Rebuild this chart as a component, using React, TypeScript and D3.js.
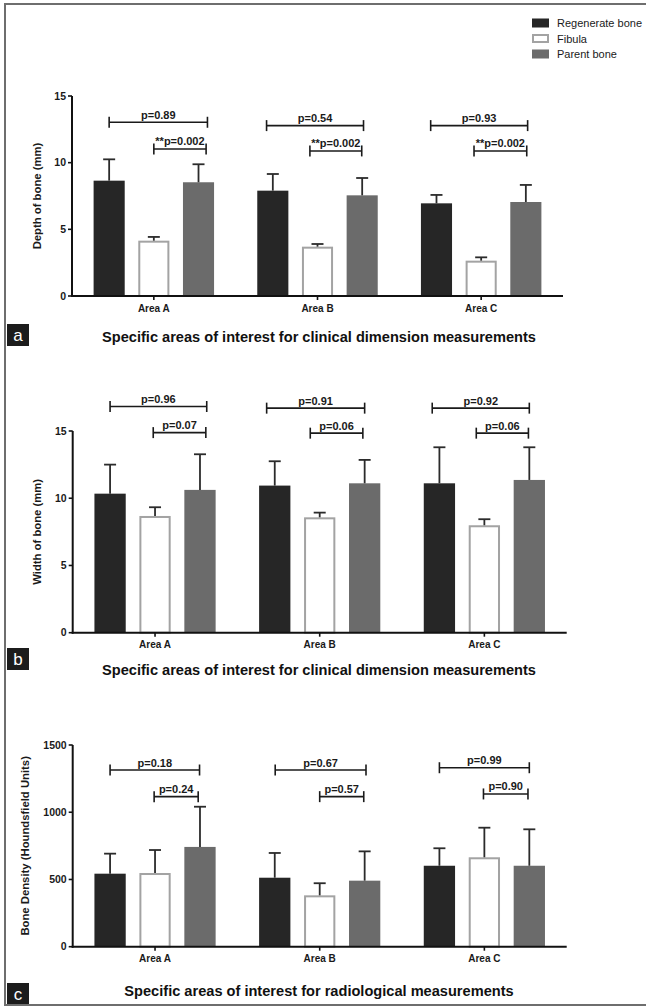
import React from "react";
import * as d3 from "d3";

const areas = ["Area A", "Area B", "Area C"];
const series = ["Regenerate bone", "Fibula", "Parent bone"];
const colors = ["#262626", "#ffffff", "#6b6b6b"];

// panel a - depth of bone (mm)
const depthTicks = [0, 5, 10, 15];
const depthRegenerate = [8.65, 7.9, 6.95];
const depthRegenerateSD = [1.6, 1.25, 0.63];
const depthFibula = [4.15, 3.7, 2.65];
const depthFibulaSD = [0.28, 0.2, 0.25];
const depthParent = [8.53, 7.55, 7.05];
const depthParentSD = [1.35, 1.3, 1.28];
const depthP = [["p=0.89", "**p=0.002"], ["p=0.54", "**p=0.002"], ["p=0.93", "**p=0.002"]];
const depthLevels = [[13.03, 11.03], [12.78, 10.88], [12.78, 10.88]];
const depthSpans = [[[0, 2.2], [1, 2.17]], [[-0.14, 2.03], [0.83, 1.99]], [[-0.13, 2.04], [0.84, 2.02]]];

// panel b - width of bone (mm)
const widthTicks = [0, 5, 10, 15];
const widthRegenerate = [10.34, 10.94, 11.11];
const widthRegenerateSD = [2.16, 1.81, 2.68];
const widthFibula = [8.68, 8.58, 7.99];
const widthFibulaSD = [0.65, 0.35, 0.45];
const widthParent = [10.62, 11.11, 11.36];
const widthParentSD = [2.65, 1.74, 2.43];
const widthP = [["p=0.96", "p=0.07"], ["p=0.91", "p=0.06"], ["p=0.92", "p=0.06"]];
const widthLevels = [[16.82, 14.88], [16.7, 14.84], [16.7, 14.84]];
const widthSpans = [[[0, 2.15], [0.96, 2.13]], [[-0.18, 2.0], [0.79, 1.96]], [[-0.16, 2.0], [0.82, 1.98]]];

// panel c - bone density (HU)
const densityTicks = [0, 500, 1000, 1500];
const densityRegenerate = [543, 513, 602];
const densityRegenerateSD = [149, 184, 130];
const densityFibula = [548, 382, 665];
const densityFibulaSD = [171, 90, 220];
const densityParent = [742, 491, 602];
const densityParentSD = [299, 218, 271];
const densityP = [["p=0.18", "p=0.24"], ["p=0.67", "p=0.57"], ["p=0.99", "p=0.90"]];
const densityLevels = [[1314, 1116], [1314, 1116], [1331, 1136]];
const densitySpans = [[[0, 1.99], [0.98, 1.96]], [[0.01, 2.03], [1.0, 1.98]], [[0, 2.0], [0.98, 1.97]]];

const font = "'Liberation Sans', Arial, sans-serif";

const panels = [
  {
    letter: "a", yLabel: "Depth of bone (mm)", yLabelX: 40.5,
    title: "Specific areas of interest for clinical dimension measurements",
    ticks: depthTicks, means: [depthRegenerate, depthFibula, depthParent],
    sds: [depthRegenerateSD, depthFibulaSD, depthParentSD],
    pvals: depthP, levels: depthLevels, spans: depthSpans,
    xRange: [72, 563], yTop: 96, yBottom: 296, titleY: 342, boxY: 324
  },
  {
    letter: "b", yLabel: "Width of bone (mm)", yLabelX: 40.5,
    title: "Specific areas of interest for clinical dimension measurements",
    ticks: widthTicks, means: [widthRegenerate, widthFibula, widthParent],
    sds: [widthRegenerateSD, widthFibulaSD, widthParentSD],
    pvals: widthP, levels: widthLevels, spans: widthSpans,
    xRange: [72.7, 566.7], yTop: 431, yBottom: 632.7, titleY: 675, boxY: 648
  },
  {
    letter: "c", yLabel: "Bone Density (Houndsfield Units)", yLabelX: 29,
    title: "Specific areas of interest for radiological measurements",
    ticks: densityTicks, means: [densityRegenerate, densityFibula, densityParent],
    sds: [densityRegenerateSD, densityFibulaSD, densityParentSD],
    pvals: densityP, levels: densityLevels, spans: densitySpans,
    xRange: [72.7, 566.7], yTop: 745, yBottom: 946.7, titleY: 996, boxY: 983
  }
];

function Panel({ p }) {
  const x = d3.scaleBand().domain(areas).range(p.xRange);
  const bw = x.bandwidth();
  const step = bw * 0.273;
  const inner = d3.scaleBand()
    .domain(series)
    .range([bw / 2 - 1.5 * step, bw / 2 + 1.5 * step])
    .paddingInner(0.304)
    .paddingOuter(0.152);
  const yMax = p.ticks[p.ticks.length - 1];
  const y = d3.scaleLinear().domain([0, yMax]).range([p.yBottom, p.yTop]);
  const x0 = p.xRange[0];
  const sx = (ai, s) => x(areas[ai]) + inner(series[0]) + inner.bandwidth() / 2 + s * inner.step();

  const bars = series.map((s, si) => areas.map((a, ai) => {
    const v = p.means[si][ai];
    const bx = x(a) + inner(s);
    const w = inner.bandwidth();
    if (si === 1) {
      return (
        <rect key={s + a} x={bx + 1} y={y(v) + 1} width={w - 2} height={y(0) - y(v) - 1}
          fill="#fff" stroke="#a3a3a3" strokeWidth={2} />
      );
    }
    return <rect key={s + a} x={bx} y={y(v)} width={w} height={y(0) - y(v)} fill={colors[si]} />;
  }));

  const errors = series.map((s, si) => areas.map((a, ai) => {
    const v = p.means[si][ai];
    const top = v + p.sds[si][ai];
    const cx = x(a) + inner(s) + inner.bandwidth() / 2;
    return (
      <g key={"e" + s + a} stroke="#2b2b2b" strokeWidth={1.8}>
        <line x1={cx} x2={cx} y1={y(v)} y2={y(top)} />
        <line x1={cx - 6} x2={cx + 6} y1={y(top)} y2={y(top)} />
      </g>
    );
  }));

  const brackets = areas.map((a, ai) => p.spans[ai].map((sp, bi) => {
    const xa = sx(ai, sp[0]);
    const xb = sx(ai, sp[1]);
    const yy = y(p.levels[ai][bi]);
    return (
      <g key={"b" + a + bi}>
        <g stroke="#1a1a1a" strokeWidth={1.6}>
          <line x1={xa} x2={xb} y1={yy} y2={yy} />
          <line x1={xa} x2={xa} y1={yy - 5.5} y2={yy + 5.5} />
          <line x1={xb} x2={xb} y1={yy - 5.5} y2={yy + 5.5} />
        </g>
        <text x={(xa + xb) / 2} y={yy - 3.5} textAnchor="middle" fontSize={11}
          fontWeight="bold" fontFamily={font} fill="#1a1a1a">{p.pvals[ai][bi]}</text>
      </g>
    );
  }));

  const yAxis = (
    <g>
      <line x1={x0} x2={x0} y1={y(0) + 1} y2={y(yMax)} stroke="#111" strokeWidth={2} />
      {p.ticks.map(t => (
        <g key={t}>
          <line x1={x0 - 4} x2={x0} y1={y(t)} y2={y(t)} stroke="#111" strokeWidth={1.6} />
          <text x={x0 - 6} y={y(t)} dy="0.35em" textAnchor="end" fontSize={10.5}
            fontWeight="bold" fontFamily={font} fill="#1a1a1a">{t}</text>
        </g>
      ))}
      <text transform={`translate(${p.yLabelX},${(y(0) + y(yMax)) / 2}) rotate(-90)`}
        textAnchor="middle" fontSize={11.3} fontWeight="bold" fontFamily={font}
        fill="#1a1a1a">{p.yLabel}</text>
    </g>
  );

  const xAxis = (
    <g>
      <line x1={x0 - 1} x2={p.xRange[1]} y1={y(0)} y2={y(0)} stroke="#111" strokeWidth={2} />
      {areas.map(a => (
        <g key={a}>
          <line x1={x(a) + bw / 2} x2={x(a) + bw / 2} y1={y(0)} y2={y(0) + 4}
            stroke="#111" strokeWidth={1.6} />
          <text x={x(a) + bw / 2} y={y(0) + 15.5} textAnchor="middle" fontSize={10}
            fontWeight="bold" fontFamily={font} fill="#1a1a1a">{a}</text>
        </g>
      ))}
    </g>
  );

  return (
    <g>
      {bars}
      {errors}
      {brackets}
      {yAxis}
      {xAxis}
      <text x={319} y={p.titleY} textAnchor="middle" fontSize={14.6} fontWeight="bold"
        fontFamily={font} fill="#111">{p.title}</text>
      <rect x={7} y={p.boxY} width={22} height={22} fill="#1c1c1c" />
      <text x={18} y={p.boxY + 16.5} textAnchor="middle" fontSize={17} fontFamily={font}
        fill="#fff">{p.letter}</text>
    </g>
  );
}

function Legend() {
  return (
    <g>
      {series.map((s, i) => (
        <g key={s} transform={`translate(532,${18.5 + i * 15.5})`}>
          {i === 1
            ? <rect x={1} y={1} width={15} height={7} fill="#fff" stroke="#a3a3a3" strokeWidth={2} />
            : <rect x={0} y={0} width={17} height={9} fill={colors[i]} />}
          <text x={25} y={8.5} fontSize={11} fontFamily={font} fill="#1a1a1a">{s}</text>
        </g>
      ))}
    </g>
  );
}

export default function App() {
  return (
    <svg width={646} height={1007} style={{ position: "absolute", left: 0, top: 0, background: "#fff" }}>
      <rect x={0} y={0} width={646} height={1007} fill="#fff" />
      {panels.map(p => <Panel key={p.letter} p={p} />)}
      <Legend />
      <rect x={5} y={4} width={645} height={1001} fill="none" stroke="#6e6e6e" strokeWidth={2} />
    </svg>
  );
}
